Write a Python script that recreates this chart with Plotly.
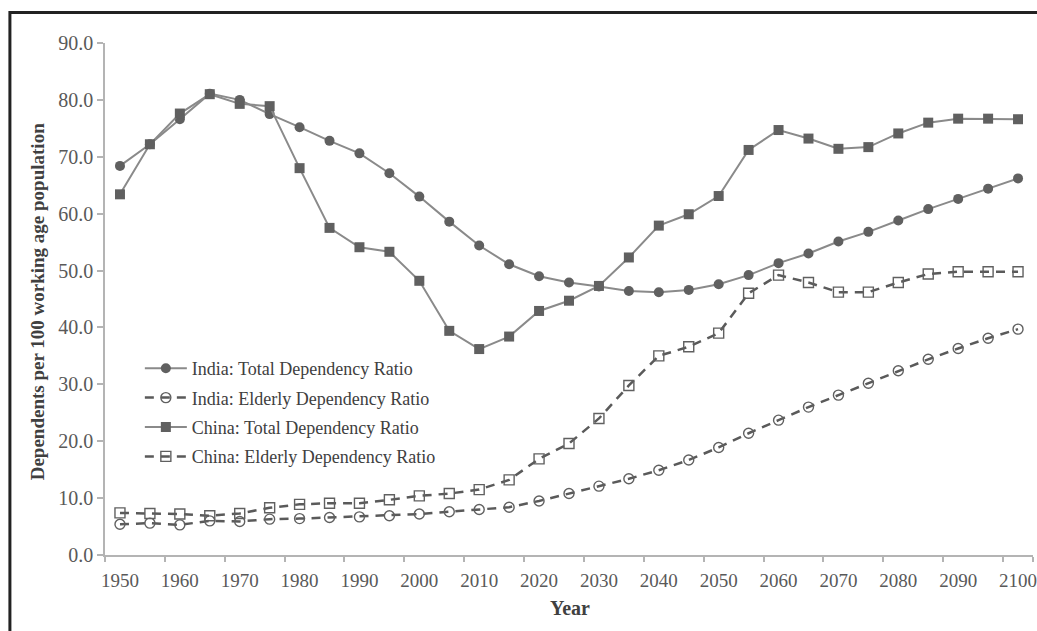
import plotly.graph_objects as go

# Five-year points, 1950-2100
years = list(range(1950, 2101, 5))

india_total = [68.4, 72.2, 76.6, 81.1, 80.0, 77.5, 75.2, 72.8, 70.6, 67.1, 63.0,
               58.6, 54.4, 51.1, 49.0, 47.9, 47.2, 46.4, 46.2, 46.6, 47.6, 49.2,
               51.3, 53.0, 55.1, 56.8, 58.8, 60.8, 62.6, 64.4, 66.2]
india_elderly = [5.4, 5.6, 5.3, 6.0, 5.9, 6.3, 6.4, 6.6, 6.7, 6.9, 7.2,
                 7.6, 8.0, 8.4, 9.5, 10.8, 12.1, 13.4, 14.9, 16.7, 18.9, 21.4,
                 23.7, 26.0, 28.1, 30.2, 32.4, 34.4, 36.3, 38.1, 39.7]
china_total = [63.4, 72.2, 77.6, 81.0, 79.3, 78.9, 68.0, 57.5, 54.1, 53.3, 48.2,
               39.4, 36.2, 38.4, 42.9, 44.7, 47.3, 52.3, 57.9, 59.9, 63.1, 71.2,
               74.7, 73.2, 71.4, 71.7, 74.1, 76.0, 76.7, 76.7, 76.6]
china_elderly = [7.4, 7.3, 7.2, 6.9, 7.3, 8.3, 8.9, 9.1, 9.1, 9.7, 10.4,
                 10.8, 11.5, 13.2, 16.9, 19.6, 24.0, 29.8, 35.0, 36.6, 39.0, 46.0,
                 49.2, 47.9, 46.2, 46.2, 47.9, 49.4, 49.8, 49.8, 49.8]

x_labels = list(range(1950, 2101, 10))
y_ticks = list(range(0, 91, 10))

FONT = "Liberation Serif"
LINE_GREY = "#8a8a8a"
MARK_GREY = "#606060"
DASH_GREY = "#5a5a5a"

fig = go.Figure()

fig.add_trace(go.Scatter(
    x=years, y=india_total, name="India: Total Dependency Ratio",
    mode="lines+markers", legendgroup="a",
    line=dict(color=LINE_GREY, width=2),
    marker=dict(symbol="circle", size=10, color=MARK_GREY),
))
fig.add_trace(go.Scatter(
    x=years, y=india_elderly, name="India: Elderly Dependency Ratio",
    mode="lines+markers", legendgroup="b",
    line=dict(color=DASH_GREY, width=2.5, dash="9px,7px"),
    marker=dict(symbol="circle-open", size=10, color=MARK_GREY,
                line=dict(width=1.4)),
))
fig.add_trace(go.Scatter(
    x=years, y=china_total, name="China: Total Dependency Ratio",
    mode="lines+markers", legendgroup="c",
    line=dict(color=LINE_GREY, width=2),
    marker=dict(symbol="square", size=10, color=MARK_GREY),
))
fig.add_trace(go.Scatter(
    x=years, y=china_elderly, name="China: Elderly Dependency Ratio",
    mode="lines+markers", legendgroup="d",
    line=dict(color=DASH_GREY, width=2.5, dash="9px,7px"),
    marker=dict(symbol="square-open", size=10, color=MARK_GREY,
                line=dict(width=1.4)),
))

L, R, T, B = 105, 0, 43, 76
W, H = 1037, 631
pw, ph = W - L - R, H - T - B

fig.update_layout(
    width=W, height=H,
    margin=dict(l=L, r=R, t=T, b=B),
    paper_bgcolor="white", plot_bgcolor="white",
    font=dict(family=FONT, color="#595959", size=18),
    showlegend=True,
    legend=dict(
        x=(140 - L) / pw, y=(H - B - 350) / ph,
        xanchor="left", yanchor="top",
        bgcolor="rgba(0,0,0,0)",
        font=dict(family=FONT, size=18, color="#404040"),
        tracegroupgap=3,
        itemwidth=42,
    ),
    xaxis=dict(
        range=[1947.5, 2102.5],
        tickmode="array", tickvals=x_labels,
        ticktext=[str(v) for v in x_labels],
        ticks="", showgrid=False, zeroline=False,
        showline=True, linecolor="#b4b4b4", linewidth=1.5,
        ticklabeloverflow="allow",
        ticklabelstandoff=7,
        tickfont=dict(family=FONT, size=19, color="#595959"),
        minor=dict(tickmode="array",
                   tickvals=[v - 2.5 for v in x_labels] + [2102.5],
                   ticks="outside", ticklen=5, tickcolor="#b4b4b4",
                   tickwidth=1.5, showgrid=False),
    ),
    yaxis=dict(
        range=[0, 90],
        tickmode="array", tickvals=y_ticks,
        ticktext=[f"{v:.1f}" for v in y_ticks],
        ticks="outside", ticklen=6, tickcolor="#b4b4b4", tickwidth=1.5,
        showgrid=False, zeroline=False,
        showline=True, linecolor="#b4b4b4", linewidth=1.5,
        tickfont=dict(family=FONT, size=20, color="#595959"),
    ),
    annotations=[
        dict(text="<b>Dependents per 100 working age population</b>",
             xref="paper", yref="paper",
             x=(37 - L) / pw, y=(H - B - 302) / ph,
             textangle=-90, showarrow=False,
             xanchor="center", yanchor="middle",
             font=dict(family=FONT, size=19, color="#404040")),
        dict(text="<b>Year</b>",
             xref="paper", yref="paper",
             x=(572 - L) / pw, y=(H - B - 608) / ph,
             showarrow=False, xanchor="center", yanchor="middle",
             font=dict(family=FONT, size=20, color="#404040")),
    ],
    shapes=[
        dict(type="rect", xref="paper", yref="paper",
             x0=(9.5 - L) / pw, x1=(W + 40 - L) / pw,
             y0=(H - B - (H + 40)) / ph, y1=(H - B - 12.5) / ph,
             line=dict(color="#222222", width=3), fillcolor="rgba(0,0,0,0)",
             layer="below"),
    ],
)

fig.write_html("out.html")
